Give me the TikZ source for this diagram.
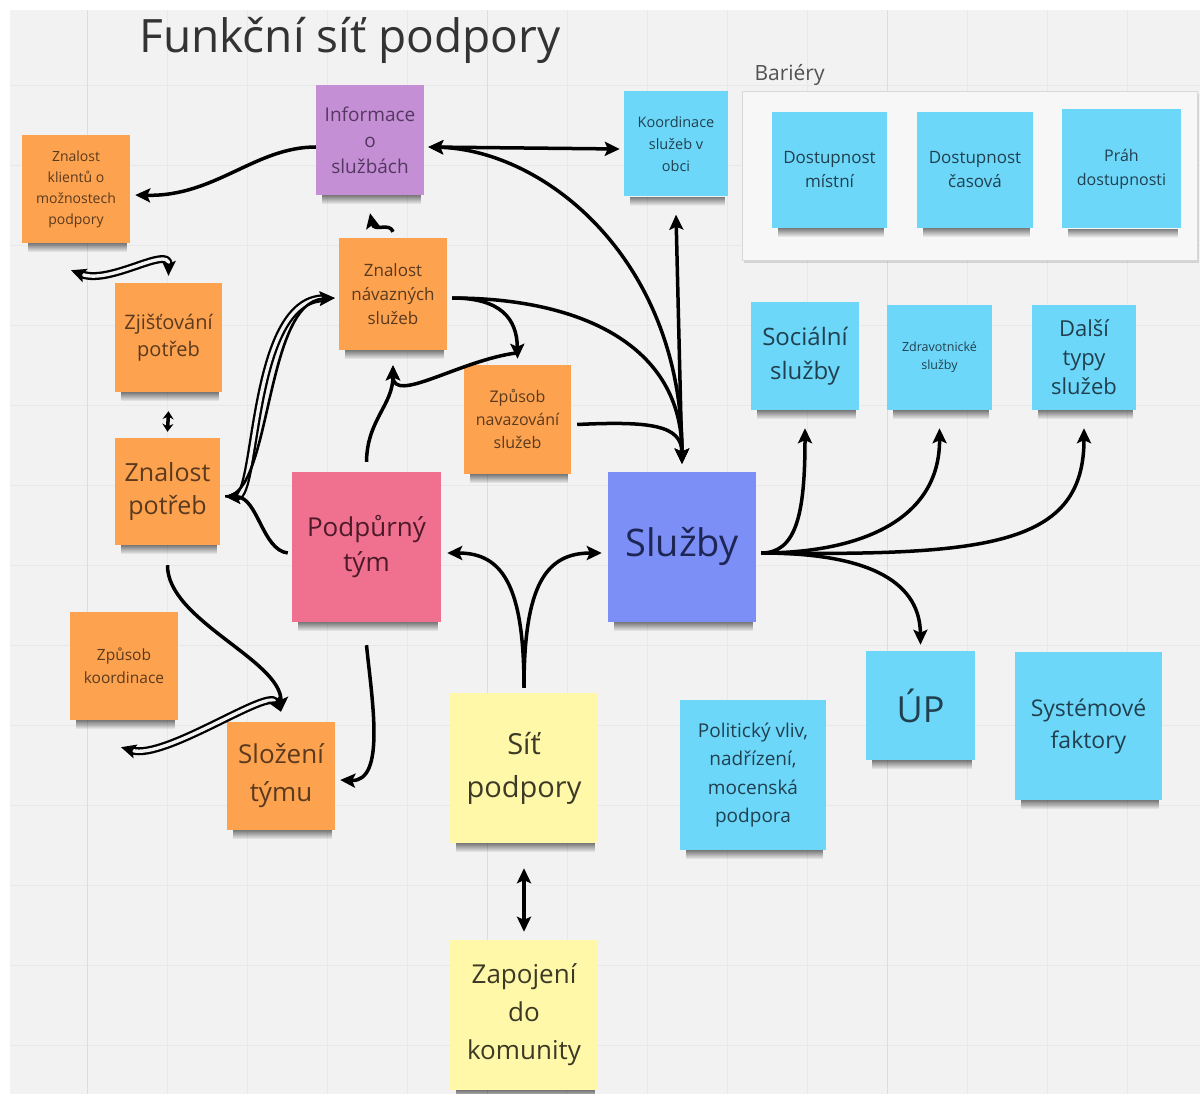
\documentclass[tikz,border=0pt]{standalone}
\usepackage{fontspec}
\setmainfont{Open Sans}
\usetikzlibrary{arrows.meta,shadows,fadings}

\definecolor{board}{HTML}{F2F2F2}
\definecolor{gridcol}{HTML}{E8E8E8}
\definecolor{gridmaj}{HTML}{DDDDDD}
\definecolor{framefill}{HTML}{F7F7F7}
\definecolor{framedraw}{HTML}{D8D8D8}
\definecolor{orangenote}{HTML}{FDA24F}
\definecolor{orangetext}{HTML}{5A3A1E}
\definecolor{purplenote}{HTML}{C48FD4}
\definecolor{purpletext}{HTML}{553862}
\definecolor{cyannote}{HTML}{6DD7F9}
\definecolor{cyantext}{HTML}{21404F}
\definecolor{pinknote}{HTML}{F07090}
\definecolor{pinktext}{HTML}{4C1A28}
\definecolor{bluenote}{HTML}{7C8FF6}
\definecolor{bluetext}{HTML}{1E2656}
\definecolor{yellownote}{HTML}{FFF8A8}
\definecolor{yellowtext}{HTML}{3C3A26}
\definecolor{titlecol}{HTML}{333333}

\begin{document}
\begin{tikzpicture}[x=1pt,y=-1pt,>={Stealth[length=15pt,width=14pt,inset=3pt]},line join=bevel,
  note/.style={rectangle,inner sep=2pt,align=center},
  wh/.style 2 args={minimum width=#1pt,minimum height=#2pt},
  orangebox/.style={note,fill=orangenote,text=orangetext},
  purplebox/.style={note,fill=purplenote,text=purpletext},
  cyanbox/.style={note,fill=cyannote,text=cyantext},
  pinkbox/.style={note,fill=pinknote,text=pinktext},
  bluebox/.style={note,fill=bluenote,text=bluetext},
  yellowbox/.style={note,fill=yellownote,text=yellowtext},
  notedrop/.style={black,opacity=.5,path fading=south},
  link/.style={draw=black,line width=3.5pt},
  twin/.style={draw=black,line width=2.3pt,double=board,double distance=3.4pt},
]
\useasboundingbox (0,0) rectangle (1200,1094);
\fill[white] (0,0) rectangle (1200,1094);
%% board
\fill[board] (10,10) rectangle (1200,1094);
\foreach \gx in {87,167,...,1190} \draw[gridcol,line width=.8pt] (\gx,10) -- (\gx,1094);
\foreach \gy in {85,165,...,1090} \draw[gridcol,line width=.8pt] (10,\gy) -- (1200,\gy);
\foreach \gx in {87,487,887} \draw[gridmaj,line width=1pt] (\gx,10) -- (\gx,1094);
%
\node[anchor=west,text=titlecol,font=\fontsize{46}{56}\selectfont] (title) at (136,40) {Funkční síť podpory};
%% Frame: Bariery
\node[rectangle,fill=framefill,draw=framedraw,line width=.8pt,wh={455}{169},
  drop shadow={shadow xshift=2pt,shadow yshift=-3pt,opacity=.12,fill=black}] (frame) at (969.5,175.5) {};
\node[anchor=west,text=titlecol!85,font=\fontsize{21}{26}\selectfont] (bariery) at (751,75) {Bariéry};
%% Nodes
% Node: Informace o sluzbach
\node[purplebox,wh={108}{110},font=\fontsize{19}{26}\selectfont] (info) at (370,140) {Informace\\o\\službách};
% Node: Znalost klientu
\node[orangebox,wh={108}{108},font=\fontsize{14}{21}\selectfont] (klienti) at (76,189) {Znalost\\klientů o\\možnostech\\podpory};
% Node: Koordinace
\node[cyanbox,wh={104}{105},font=\fontsize{14.5}{22}\selectfont] (koord) at (676,144) {Koordinace\\služeb v\\obci};
% Node: Dostupnost mistni
\node[cyanbox,wh={115}{116},font=\fontsize{17}{24}\selectfont] (mistni) at (829.5,170) {Dostupnost\\místní};
% Node: Dostupnost casova
\node[cyanbox,wh={116}{116},font=\fontsize{17}{24}\selectfont] (casova) at (975,170) {Dostupnost\\časová};
% Node: Prah dostupnosti
\node[cyanbox,wh={119}{119},font=\fontsize{16}{24}\selectfont] (prah) at (1121.5,169) {Práh\\dostupnosti};
% Node: Znalost navaznych sluzeb
\node[orangebox,wh={108}{112},font=\fontsize{17}{24}\selectfont] (navazne) at (393,294) {Znalost\\návazných\\služeb};
% Node: Zjistovani potreb
\node[orangebox,wh={107}{109},font=\fontsize{20}{27}\selectfont] (zjistovani) at (168.5,337.5) {Zjišťování\\potřeb};
% Node: Zpusob navazovani sluzeb
\node[orangebox,wh={107}{109},font=\fontsize{16}{23}\selectfont] (zpusobnav) at (517.5,419.5) {Způsob\\navazování\\služeb};
% Node: Znalost potreb
\node[orangebox,wh={105}{107},font=\fontsize{25}{33}\selectfont] (potreby) at (167.5,491.5) {Znalost\\potřeb};
% Node: Podpurny tym
\node[pinkbox,wh={149}{150},font=\fontsize{26}{35}\selectfont] (tym) at (366.5,547) {Podpůrný\\tým};
% Node: Sluzby
\node[bluebox,wh={148}{150},font=\fontsize{38}{46}\selectfont] (sluzby) at (682,547) {Služby};
% Node: Socialni sluzby
\node[cyanbox,wh={108}{108},font=\fontsize{24}{34}\selectfont] (socialni) at (805,356) {Sociální\\služby};
% Node: Zdravotnicke sluzby
\node[cyanbox,wh={105}{105},font=\fontsize{12.5}{18}\selectfont] (zdrav) at (939.5,357.5) {Zdravotnické\\služby};
% Node: Dalsi typy sluzeb
\node[cyanbox,wh={104}{105},font=\fontsize{22}{29}\selectfont] (dalsi) at (1084,357.5) {Další\\typy\\služeb};
% Node: Zpusob koordinace
\node[orangebox,wh={108}{108},font=\fontsize{15.5}{23}\selectfont] (zpusobkoord) at (124,666) {Způsob\\koordinace};
% Node: Slozeni tymu
\node[orangebox,wh={108}{108},font=\fontsize{26}{38}\selectfont] (slozeni) at (281,776) {Složení\\týmu};
% Node: Sit podpory
\node[yellowbox,wh={148}{150},font=\fontsize{29}{43}\selectfont] (sit) at (524,768) {Síť\\podpory};
% Node: Zapojeni do komunity
\node[yellowbox,wh={148}{150},font=\fontsize{26}{38}\selectfont] (zapojeni) at (524,1015) {Zapojení\\do\\komunity};
% Node: Politicky vliv
\node[cyanbox,wh={146}{150},font=\fontsize{19}{28.5}\selectfont] (politicky) at (753,775) {Politický vliv,\\nadřízení,\\mocenská\\podpora};
% Node: UP
\node[cyanbox,wh={109}{109},font=\fontsize{36}{44}\selectfont] (up) at (920.5,705.5) {ÚP};
% Node: Systemove faktory
\node[cyanbox,wh={147}{148},font=\fontsize{23}{32}\selectfont] (system) at (1088.5,726) {Systémové\\faktory};
% note shadows
\foreach \n in {info,klienti,koord,mistni,casova,prah,navazne,zjistovani,zpusobnav,potreby,tym,sluzby,
  socialni,zdrav,dalsi,zpusobkoord,slozeni,sit,zapojeni,politicky,up,system}
  \fill[notedrop] ([xshift=6pt]\n.south west) rectangle ([xshift=-3pt,yshift=-9pt]\n.south east);
%% Edges
% Edge: info -> klienti
\draw[link,->] ([yshift=-7pt]info.west) .. controls (255,147) and (215,197) .. ([xshift=5pt,yshift=-6pt]klienti.east);
% Edge: info <-> koord
\draw[link,<->] ([xshift=4pt,yshift=-7pt]info.east) -- ([xshift=-4pt,yshift=-5pt]koord.west);
% Edge: info <-> sluzby
\draw[link,<->] ([xshift=4pt,yshift=-7pt]info.east) .. controls (545,150) and (682,260) .. ([yshift=8pt]sluzby.north);
% Edge: koord <-> sluzby
\draw[link,<->] ([yshift=-18pt]koord.south) -- ([yshift=8pt]sluzby.north);
% Edge: navazne -> sluzby
\draw[link,->] ([xshift=5pt,yshift=-4pt]navazne.east) .. controls (580,298) and (682,345) .. ([yshift=8pt]sluzby.north);
% Edge: navazne -> zpusobnav
\draw[link,->] ([xshift=5pt,yshift=-4pt]navazne.east) .. controls (500,298) and (517,318) .. ([yshift=6pt]zpusobnav.north);
% Edge: zpusobnav -> sluzby
\draw[link,->] ([xshift=6pt,yshift=-5pt]zpusobnav.east) .. controls (650,421) and (682,425) .. ([yshift=8pt]sluzby.north);
% Edge: tym -> navazne
\draw[link,->] ([yshift=10pt]tym.north) .. controls (367,420) and (393,405) .. ([yshift=-15pt]navazne.south);
% Edge: zpusobnav -> navazne
\draw[link,->] ([yshift=12pt]zpusobnav.north) .. controls (460,360) and (393,405) .. ([yshift=-15pt]navazne.south);
% Edge: navazne -> info
\draw[link,->] ([yshift=6pt]navazne.north) .. controls (390,222) and (374,232) .. ([yshift=-18pt]info.south);
% Edge: potreby <-> navazne
\draw[twin,<->] ([xshift=5pt,yshift=-5pt]potreby.east) .. controls (258,497) and (250,300) .. ([xshift=-4pt,yshift=-4pt]navazne.west);
% Edge: potreby -> navazne
\draw[link,line width=2.6pt,->] ([xshift=5pt,yshift=-5pt]potreby.east) .. controls (272,497) and (264,302) .. ([xshift=-4pt,yshift=-4pt]navazne.west);
% Edge: tym -> potreby
\draw[link,->] ([xshift=-4pt,yshift=-6pt]tym.west) .. controls (262,550) and (258,497) .. ([xshift=5pt,yshift=-5pt]potreby.east);
% Edge: klienti <-> zjistovani
\draw[twin,<->] ([xshift=-5pt,yshift=-27pt]klienti.south) .. controls (110,285) and (169,245) .. ([yshift=7pt]zjistovani.north);
% Edge: zjistovani <-> potreby
\draw[link,<->,>={Stealth[length=8pt,width=11pt]}] ([yshift=-19pt]zjistovani.south) -- ([yshift=6pt]potreby.north);
% Edge: potreby -> slozeni
\draw[link,->] ([yshift=-20pt]potreby.south) .. controls (167,620) and (281,660) .. ([yshift=10pt]slozeni.north);
% Edge: slozeni <-> zpusobkoord
\draw[twin,<->] ([yshift=10pt]slozeni.north) .. controls (268,688) and (165,760) .. ([xshift=-3pt,yshift=-27pt]zpusobkoord.south);
% Edge: tym -> slozeni
\draw[link,->] ([yshift=-23pt]tym.south) .. controls (372,700) and (386,782) .. ([xshift=5pt,yshift=-4pt]slozeni.east);
% Edge: sit -> tym
\draw[link,->] ([yshift=5pt]sit.north) .. controls (524,585) and (502,553) .. ([xshift=6pt,yshift=-6pt]tym.east);
% Edge: sit -> sluzby
\draw[link,->] ([yshift=5pt]sit.north) .. controls (524,585) and (546,553) .. ([xshift=-6pt,yshift=-6pt]sluzby.west);
% Edge: sit <-> zapojeni
\draw[link,<->] ([yshift=-25pt]sit.south) -- ([yshift=8pt]zapojeni.north);
% Edge: sluzby -> socialni
\draw[link,->] ([xshift=5pt,yshift=-6pt]sluzby.east) .. controls (796,553) and (805,515) .. ([yshift=-18pt]socialni.south);
% Edge: sluzby -> zdrav
\draw[link,->] ([xshift=5pt,yshift=-6pt]sluzby.east) .. controls (860,553) and (940,520) .. ([yshift=-18pt]zdrav.south);
% Edge: sluzby -> dalsi
\draw[link,->] ([xshift=5pt,yshift=-6pt]sluzby.east) .. controls (990,556) and (1084,545) .. ([yshift=-18pt]dalsi.south);
% Edge: sluzby -> up
\draw[link,->] ([xshift=5pt,yshift=-6pt]sluzby.east) .. controls (875,553) and (920,585) .. ([yshift=6pt]up.north);
%
\end{tikzpicture}
\end{document}
